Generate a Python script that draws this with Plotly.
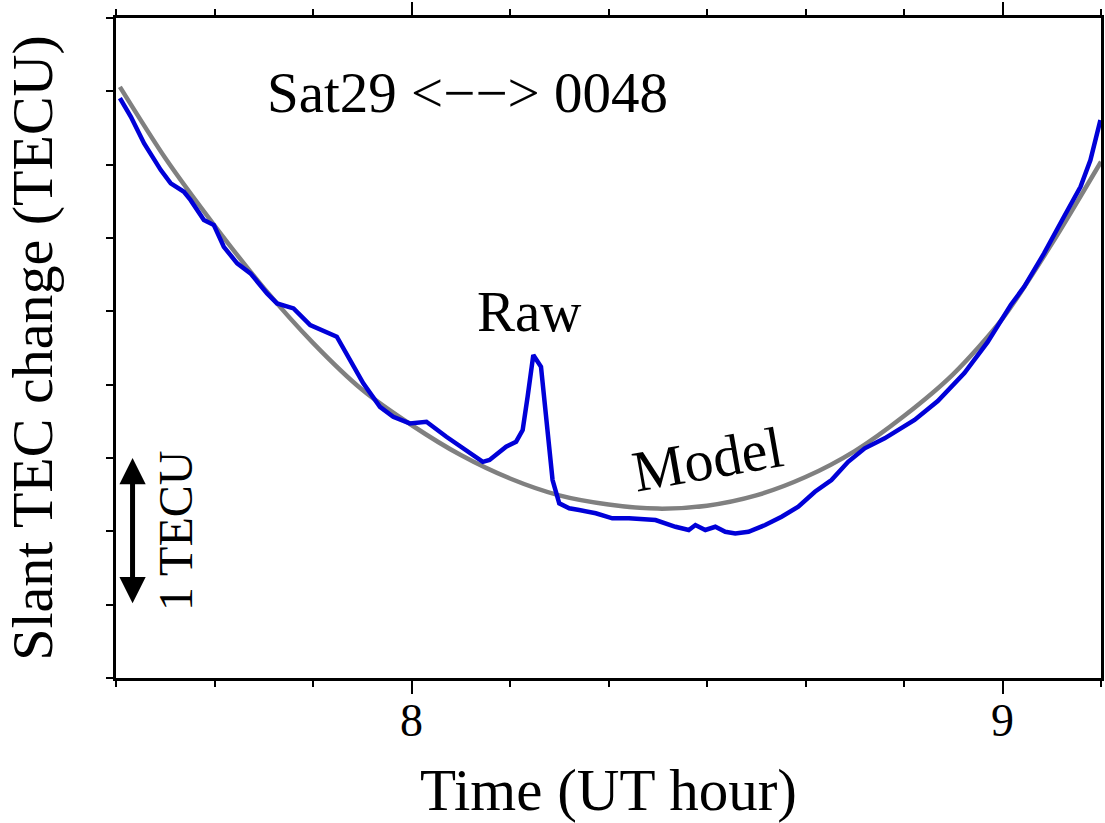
import plotly.graph_objects as go

# ---- data ----
model_time = [7.5066, 7.5833, 7.6667, 7.75, 7.8333, 7.9167, 8.0, 8.0833, 8.1667,
              8.25, 8.3333, 8.4167, 8.5, 8.5833, 8.6667, 8.75, 8.8333, 8.9167,
              9.0, 9.0833, 9.1667]
model_tec = [4.03, 3.545, 3.085, 2.66, 2.285, 1.965, 1.725, 1.52, 1.36,
             1.245, 1.183, 1.155, 1.175, 1.245, 1.37, 1.547, 1.786, 2.072,
             2.45, 2.96, 3.52]

raw_time = [7.5066, 7.5252, 7.5476, 7.5758, 7.5926, 7.6150, 7.6263, 7.6487, 7.6656,
            7.6824, 7.7050, 7.7275, 7.7556, 7.7725, 7.8004, 7.8286, 7.8736, 7.8960,
            7.9184, 7.9466, 7.9690, 7.9971, 8.0253, 8.0590, 8.0927, 8.1207, 8.1320,
            8.1601, 8.1770, 8.1881, 8.1965, 8.2061, 8.2191, 8.2275, 8.2387, 8.2500,
            8.2668, 8.2837, 8.3118, 8.3398, 8.3679, 8.4129, 8.4467, 8.4691, 8.4804,
            8.4972, 8.5141, 8.5309, 8.5478, 8.5702, 8.5984, 8.6263, 8.6545, 8.6826,
            8.7106, 8.7388, 8.7669, 8.8006, 8.8512, 8.8905, 8.9355, 8.9747, 9.0140,
            9.0366, 9.0703, 9.1040, 9.1320, 9.1488, 9.1657]
raw_tec = [3.954, 3.826, 3.645, 3.463, 3.372, 3.315, 3.258, 3.122, 3.088,
           2.940, 2.827, 2.759, 2.622, 2.554, 2.520, 2.406, 2.327, 2.168,
           2.009, 1.849, 1.781, 1.736, 1.747, 1.645, 1.554, 1.474, 1.486,
           1.577, 1.611, 1.691, 1.918, 2.202, 2.122, 1.804, 1.350, 1.191,
           1.157, 1.145, 1.123, 1.089, 1.089, 1.077, 1.031, 1.009, 1.043,
           1.009, 1.031, 0.997, 0.986, 0.997, 1.043, 1.100, 1.168, 1.270,
           1.350, 1.474, 1.566, 1.634, 1.759, 1.888, 2.079, 2.290, 2.543,
           2.667, 2.895, 3.145, 3.349, 3.531, 3.804]

x_major_ticks = [8, 9]
x_major_labels = ["8", "9"]

title_text = "Sat29 <\u2212\u2212> 0048"
FONT = "Liberation Serif"

fig = go.Figure()
fig.add_trace(go.Scatter(x=model_time, y=model_tec, mode="lines", name="Model",
                         line=dict(color="#808080", width=4.5, shape="spline",
                                   smoothing=0.8),
                         showlegend=False))
fig.add_trace(go.Scatter(x=raw_time, y=raw_tec, mode="lines", name="Raw",
                         line=dict(color="#0000d8", width=4.5),
                         showlegend=False))

# text labels
fig.add_annotation(x=8.095, y=3.995, text=title_text, showarrow=False,
                   font=dict(family=FONT, size=57, color="black"),
                   xanchor="center", yanchor="middle")
fig.add_annotation(x=8.198, y=2.50, text="Raw", showarrow=False,
                   font=dict(family=FONT, size=57, color="black"),
                   xanchor="center", yanchor="middle")
fig.add_annotation(x=8.50, y=1.49, text="Model", showarrow=False, textangle=-10,
                   font=dict(family=FONT, size=58, color="black"),
                   xanchor="center", yanchor="middle")
fig.add_annotation(x=7.601, y=1.0, text="1 TECU", showarrow=False, textangle=-90,
                   font=dict(family=FONT, size=48, color="black"),
                   xanchor="center", yanchor="middle")
# 1 TECU scale arrow
fig.add_annotation(x=7.528, y=1.5, ax=7.528, ay=0.5, axref="x", ayref="y",
                   xref="x", yref="y", text="", showarrow=True,
                   arrowhead=2, startarrowhead=2, arrowside="end+start",
                   arrowwidth=5, arrowsize=1.05, startarrowsize=1.05,
                   arrowcolor="black", standoff=0, startstandoff=0)

fig.update_layout(
    width=1105, height=823,
    margin=dict(l=116, r=1, t=18, b=145),
    paper_bgcolor="white", plot_bgcolor="white",
    font=dict(family=FONT, color="black"),
    xaxis=dict(range=[7.5, 9.16667], tickmode="array", tickvals=x_major_ticks,
               ticktext=x_major_labels, ticks="outside", ticklen=13, tickwidth=2,
               tickcolor="black", showline=True, linewidth=3, linecolor="black",
               mirror="allticks", showgrid=False, zeroline=False,
               ticklabelstandoff=-13,
               tickfont=dict(family=FONT, size=46, color="black"),
               minor=dict(tick0=7.5, dtick=1/6, ticks="outside", ticklen=6,
                          tickwidth=2, tickcolor="black", showgrid=False),
               title=dict(text="Time (UT hour)", standoff=26,
                          font=dict(family=FONT, size=59, color="black"))),
    yaxis=dict(range=[0, 4.5], tickmode="linear", tick0=0, dtick=0.5,
               ticks="outside", ticklen=7, tickwidth=2, tickcolor="black",
               showticklabels=False, showline=True, linewidth=3, linecolor="black",
               mirror=True, showgrid=False, zeroline=False,
               title=dict(text="Slant TEC change (TECU)", standoff=38,
                          font=dict(family=FONT, size=58, color="black"))),
)

fig.write_html("out.html")
